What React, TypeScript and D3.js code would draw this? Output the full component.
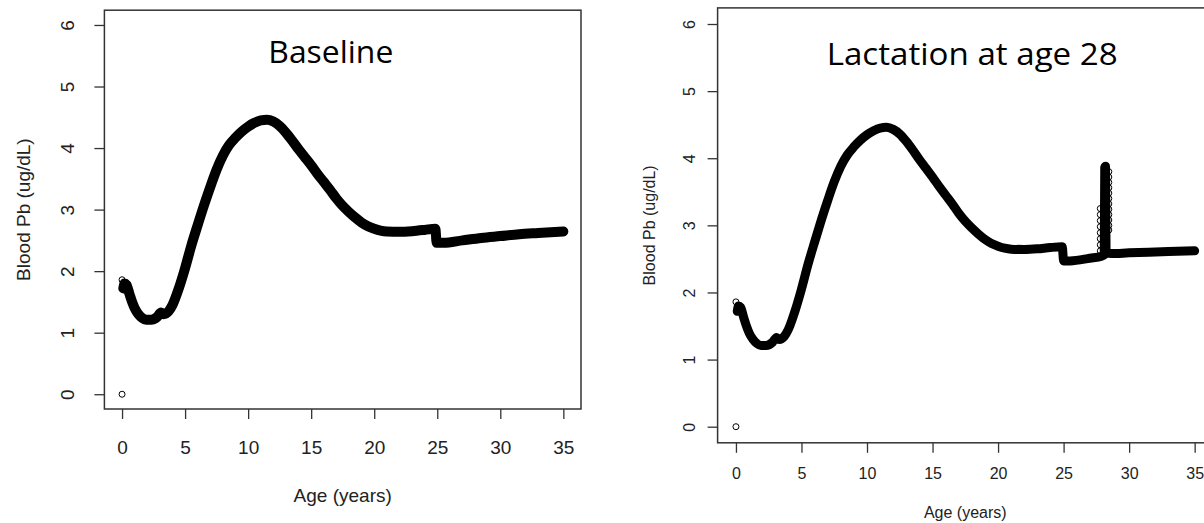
import * as d3 from "d3";
import { useEffect, useRef } from "react";

const xTicks = [0, 5, 10, 15, 20, 25, 30, 35];
const yTicks = [0, 1, 2, 3, 4, 5, 6];

// baseline simulation (age in years, blood Pb in ug/dL)
const baselineAge = [
  0.1, 0.2, 0.35, 0.6, 0.8, 1.0, 1.3, 1.6, 1.9, 2.3, 2.8, 3.1, 3.3, 3.7, 4.0,
  4.5, 5.0, 5.5, 6.0, 6.5, 7.0, 7.5, 8.0, 8.5, 9.0, 9.5, 10.0, 10.5, 11.0, 11.5, 12.0,
  12.5, 13.0, 13.5, 14.0, 14.5, 15.0, 15.5, 16.0, 16.5, 17.0, 17.5, 18.0, 18.5, 19.0,
  19.5, 20.0, 20.5, 21.0, 22.0, 23.0, 24.0, 24.85, 24.95, 25.5, 27.0, 28.5, 30.0,
  31.5, 33.0, 35.0,
];
const baselinePb = [
  1.72, 1.8, 1.78, 1.62, 1.5, 1.4, 1.3, 1.24, 1.21, 1.21, 1.26, 1.33, 1.3, 1.35, 1.45,
  1.72, 2.05, 2.42, 2.75, 3.07, 3.37, 3.65, 3.88, 4.05, 4.17, 4.27, 4.35, 4.41, 4.45, 4.46, 4.43,
  4.36, 4.25, 4.12, 3.98, 3.85, 3.72, 3.58, 3.45, 3.32, 3.18, 3.06, 2.96, 2.87, 2.79,
  2.73, 2.69, 2.66, 2.645, 2.64, 2.65, 2.67, 2.69, 2.46, 2.46, 2.5, 2.54, 2.57,
  2.6, 2.62, 2.645,
];

// lactation at age 28
const lactationAge = [
  0.1, 0.2, 0.35, 0.6, 0.8, 1.0, 1.3, 1.6, 1.9, 2.3, 2.8, 3.1, 3.3, 3.7, 4.0,
  4.5, 5.0, 5.5, 6.0, 6.5, 7.0, 7.5, 8.0, 8.5, 9.0, 9.5, 10.0, 10.5, 11.0, 11.5, 12.0,
  12.5, 13.0, 13.5, 14.0, 14.5, 15.0, 15.5, 16.0, 16.5, 17.0, 17.5, 18.0, 18.5, 19.0,
  19.5, 20.0, 20.5, 21.0, 22.0, 23.0, 24.0, 24.9, 25.0, 25.5, 27.0, 27.9, 28.1,
  28.14, 28.2, 28.24, 28.6, 30.0, 31.5, 33.0, 35.0,
];
const lactationPb = [
  1.72, 1.8, 1.78, 1.62, 1.5, 1.4, 1.3, 1.24, 1.21, 1.21, 1.26, 1.33, 1.3, 1.35, 1.45,
  1.72, 2.05, 2.42, 2.75, 3.07, 3.37, 3.65, 3.88, 4.05, 4.17, 4.27, 4.35, 4.41, 4.45, 4.46, 4.43,
  4.36, 4.25, 4.12, 3.98, 3.85, 3.72, 3.58, 3.45, 3.32, 3.18, 3.06, 2.96, 2.87, 2.79,
  2.73, 2.69, 2.66, 2.645, 2.64, 2.65, 2.67, 2.68, 2.47, 2.47, 2.51, 2.54, 2.56,
  3.86, 3.88, 2.6, 2.58, 2.59, 2.6, 2.61, 2.62,
];

// isolated open circles
const startAge = [0, 0];
const startPb = [0, 1.86];

const spikeCircleAge = [
  27.8, 27.8, 27.8, 27.8, 27.8, 27.8, 27.8, 27.8,
  28.45, 28.45, 28.45, 28.45, 28.45, 28.45, 28.45, 28.45, 28.45, 28.45, 28.45, 28.45,
];
const spikeCirclePb = [
  2.62, 2.71, 2.8, 2.89, 2.98, 3.07, 3.16, 3.25,
  3.8, 3.72, 3.64, 3.56, 3.48, 3.4, 3.32, 3.24, 3.16, 3.08, 3.0, 2.93,
];

const axisColor = "#333";
const textColor = "#222";
const sans = "'Liberation Sans', Arial, sans-serif";

function Panel({ cfg, title, ages, values, circleAge, circlePb }) {
  const ref = useRef(null);

  useEffect(() => {
    const g = d3.select(ref.current);
    g.selectAll("*").remove();
    const { box, fs } = cfg;

    const x = d3.scaleLinear().domain([-1.4, 36.4]).range([box.left, box.right]);
    const y = d3.scaleLinear().domain([-0.24, 6.24]).range([box.bottom, box.top]);

    g.append("rect")
      .attr("x", box.left)
      .attr("y", box.top)
      .attr("width", box.right - box.left)
      .attr("height", box.bottom - box.top)
      .attr("fill", "none")
      .attr("stroke", axisColor)
      .attr("stroke-width", 1.5);

    const xAxis = d3.axisBottom(x).tickValues(xTicks).tickSize(10).tickFormat(d3.format("d"));
    const gx = g.append("g").attr("transform", `translate(0,${box.bottom})`).call(xAxis);
    gx.select(".domain").remove();
    gx.selectAll("line").attr("stroke", axisColor).attr("stroke-width", 1.3);
    gx.selectAll("text")
      .attr("y", cfg.xLab)
      .attr("dy", "0.35em")
      .attr("font-size", fs)
      .attr("font-family", sans)
      .attr("fill", textColor);

    const yAxis = d3.axisLeft(y).tickValues(yTicks).tickSize(10).tickFormat(d3.format("d"));
    const gy = g.append("g").attr("transform", `translate(${box.left},0)`).call(yAxis);
    gy.select(".domain").remove();
    gy.selectAll("line").attr("stroke", axisColor).attr("stroke-width", 1.3);
    gy.selectAll("text")
      .attr("transform", "rotate(-90)")
      .attr("x", 0)
      .attr("y", -cfg.yLab)
      .attr("dy", "0.35em")
      .attr("text-anchor", "middle")
      .attr("font-size", fs)
      .attr("font-family", sans)
      .attr("fill", textColor);

    g.append("text")
      .attr("x", (box.left + box.right) / 2)
      .attr("y", box.bottom + cfg.xTitle)
      .attr("dy", "0.35em")
      .attr("text-anchor", "middle")
      .attr("font-size", fs)
      .attr("font-family", sans)
      .attr("fill", textColor)
      .text("Age (years)");

    const cy = (box.top + box.bottom) / 2;
    const tx = box.left - cfg.yTitle;
    g.append("text")
      .attr("transform", `translate(${tx},${cy}) rotate(-90)`)
      .attr("dy", "0.35em")
      .attr("text-anchor", "middle")
      .attr("font-size", fs)
      .attr("font-family", sans)
      .attr("fill", textColor)
      .text("Blood Pb (ug/dL)");

    const line = d3
      .line()
      .x((d) => x(d[0]))
      .y((d) => y(d[1]))
      .curve(d3.curveMonotoneX);

    g.append("path")
      .datum(ages.map((a, i) => [a, values[i]]))
      .attr("d", line)
      .attr("fill", "none")
      .attr("stroke", "#000")
      .attr("stroke-width", cfg.lw)
      .attr("stroke-linecap", "round")
      .attr("stroke-linejoin", "round");

    g.selectAll(".pt")
      .data(circleAge.map((a, i) => [a, circlePb[i]]))
      .join("circle")
      .attr("class", "pt")
      .attr("cx", (d) => x(d[0]))
      .attr("cy", (d) => y(d[1]))
      .attr("r", 3)
      .attr("fill", "none")
      .attr("stroke", "#000")
      .attr("stroke-width", 1);

    g.append("text")
      .attr("x", cfg.titleX)
      .attr("y", cfg.titleY)
      .attr("font-size", cfg.titleFs)
      .attr("font-family", "'Open Sans', Lato, sans-serif")
      .attr("textLength", cfg.titleLen)
      .attr("lengthAdjust", "spacingAndGlyphs")
      .attr("fill", "#000")
      .text(title);
  }, [cfg, title, ages, values, circleAge, circlePb]);

  return <g ref={ref}></g>;
}

const leftCfg = {
  box: { left: 104.4, right: 581, top: 10.2, bottom: 409 },
  fs: 19, xLab: 38, yLab: 37, xTitle: 86, yTitle: 81, lw: 10,
  titleX: 268.3, titleY: 63.3, titleFs: 31, titleLen: 125,
};
const rightCfg = {
  box: { left: 717.6, right: 1213, top: 7.9, bottom: 442.8 },
  fs: 16, xLab: 31, yLab: 28, xTitle: 70, yTitle: 68, lw: 9,
  titleX: 826.7, titleY: 65, titleFs: 31, titleLen: 291,
};

export default function App() {
  return (
    <svg width={1204} height={523} style={{ position: "absolute", left: 0, top: 0, background: "#fff" }}>
      <Panel
        cfg={leftCfg}
        title="Baseline"
        ages={baselineAge}
        values={baselinePb}
        circleAge={startAge}
        circlePb={startPb}
      />
      <Panel
        cfg={rightCfg}
        title="Lactation at age 28"
        ages={lactationAge}
        values={lactationPb}
        circleAge={[...startAge, ...spikeCircleAge]}
        circlePb={[...startPb, ...spikeCirclePb]}
      />
    </svg>
  );
}
